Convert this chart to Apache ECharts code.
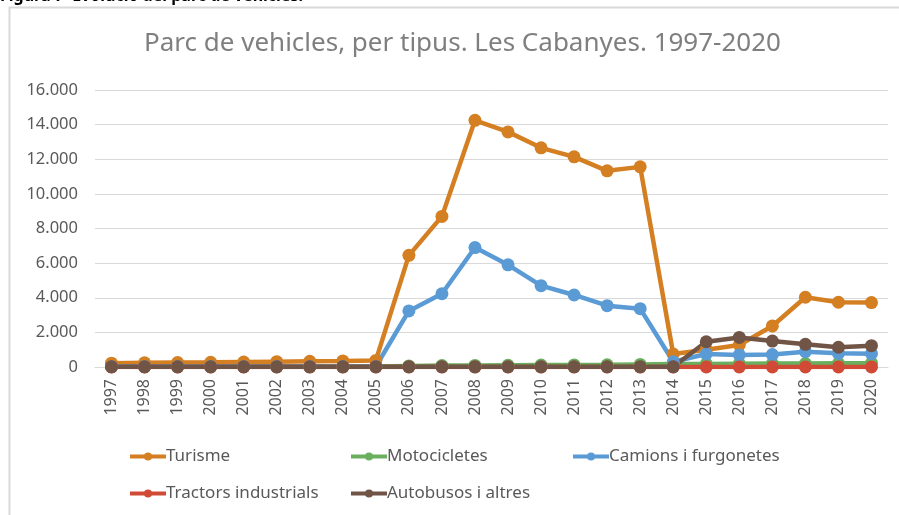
<!DOCTYPE html>
<html>
<head>
<meta charset="utf-8">
<script src="https://cdn.jsdelivr.net/npm/echarts@6/dist/echarts.min.js"></script>
<style>
html,body{margin:0;padding:0;background:#fff;}
#chart{width:899px;height:515px;}
</style>
</head>
<body>
<div id="chart"></div>
<script>
// anys i sèries (llegits del gràfic)
var years = ['1997','1998','1999','2000','2001','2002','2003','2004','2005','2006','2007','2008',
    '2009','2010','2011','2012','2013','2014','2015','2016','2017','2018','2019','2020'];
var turisme = [220,240,260,270,290,310,330,350,380,6450,8700,14250,13580,12660,12140,11330,11560,750,1000,1270,2370,4030,3740,3720];
var motocicletes = [20,20,20,20,20,20,20,20,30,60,80,90,100,110,120,130,150,170,180,190,200,200,210,220];
var camions = [30,30,30,30,30,30,30,30,30,3240,4230,6900,5900,4700,4160,3540,3370,300,750,700,720,880,790,770];
var tractors = [5,5,5,5,5,5,5,5,5,5,5,5,5,5,5,5,5,5,5,5,5,5,5,5];
var autobusos = [10,10,10,10,10,10,10,10,10,10,10,10,10,10,10,10,10,10,1460,1710,1500,1310,1140,1230];

var noms = ['Turisme','Motocicletes','Camions i furgonetes','Tractors industrials','Autobusos i altres'];
var colors = ['#D57F23','#6AAF5E','#5B9BD5','#D04A35','#705547'];
var dades = [turisme, motocicletes, camions, tractors, autobusos];

var font = '"Noto Sans", "Open Sans", sans-serif';
var chart = echarts.init(document.getElementById('chart'));

var series = [];
for (var i = 0; i < noms.length; i++) {
    series.push({
        name: noms[i],
        type: 'line',
        data: dades[i],
        symbol: 'circle',
        symbolSize: 13,
        lineStyle: { width: 4.5, color: colors[i] },
        itemStyle: { color: colors[i] }
    });
}

// una llegenda per element, per col·locar-les com a l'original
var legPos = [[123,443],[344,443],[566,443],[123,480],[344,480]];
var legends = [];
for (var j = 0; j < noms.length; j++) {
    legends.push({
        data: [noms[j]],
        left: legPos[j][0],
        top: legPos[j][1],
        itemWidth: 36,
        itemHeight: 10,
        itemGap: 0,
        lineStyle: { width: 4 },
        textStyle: { color: '#595959', fontSize: 17, fontFamily: font, padding: [0,0,0,-5] }
    });
}

var option = {
    color: colors,
    animation: false,
    title: {
        text: 'Parc de vehicles, per tipus. Les Cabanyes. 1997-2020',
        left: 139,
        top: 26,
        textStyle: { color: '#7F7F7F', fontSize: 26, fontWeight: 'normal', fontFamily: font }
    },
    legend: legends,
    grid: { left: 95, right: 11, top: 90, bottom: 148 },
    xAxis: {
        type: 'category',
        data: years,
        boundaryGap: true,
        axisLine: { lineStyle: { color: '#D9D9D9', width: 1 } },
        axisTick: { show: false },
        axisLabel: { rotate: 90, color: '#595959', fontSize: 16, fontFamily: font, margin: 12 }
    },
    yAxis: {
        type: 'value',
        min: 0,
        max: 16000,
        interval: 2000,
        axisLine: { show: false },
        axisTick: { show: false },
        splitLine: { lineStyle: { color: '#D9D9D9', width: 1 } },
        axisLabel: {
            color: '#595959', fontSize: 16.5, fontFamily: font, margin: 17,
            formatter: function (v) { return v === 0 ? '0' : (v / 1000) + '.000'; }
        }
    },
    graphic: [
        { type: 'rect', shape: { x: 9.5, y: 7.5, width: 1000, height: 600 },
          style: { fill: 'none', stroke: '#D9D9D9', lineWidth: 2 }, silent: true },
        { type: 'text', left: 0, top: -12,
          style: { text: 'Figura 7  Evolució del parc de vehicles.', fill: '#000', font: 'bold 16px ' + font } }
    ],
    series: series
};
chart.setOption(option);
</script>
</body>
</html>
